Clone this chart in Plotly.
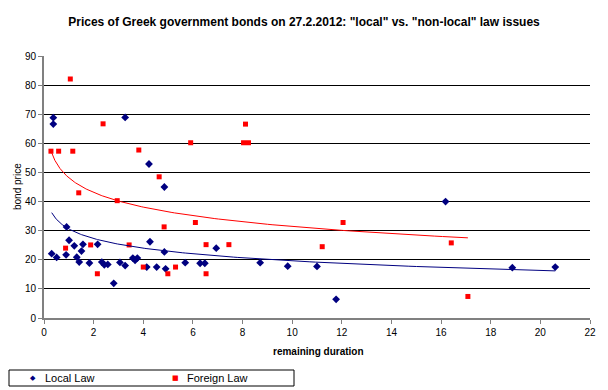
import numpy as np
import plotly.graph_objects as go

# Local law issues (remaining duration, price)
local_x = [0.375, 0.375, 3.27, 4.23, 4.85, 0.91, 0.31, 0.51, 1.01, 0.89, 1.22, 1.32, 1.42, 1.51,
           1.57, 1.83, 2.16, 2.33, 2.43, 2.57, 2.81, 3.06, 3.27, 3.58, 3.67, 3.76, 4.27, 4.14,
           4.54, 4.85, 4.90, 5.69, 6.29, 6.48, 6.94, 8.71, 9.82, 11.0, 11.77, 16.18, 18.87, 20.6]
local_y = [68.8, 66.6, 68.9, 52.9, 45.0, 31.3, 22.1, 20.8, 26.7, 21.7, 24.8, 20.9, 19.2, 23.0,
           25.3, 18.9, 25.3, 19.2, 18.3, 18.4, 11.9, 19.1, 18.0, 20.6, 19.8, 20.6, 26.2, 17.5,
           17.5, 22.7, 16.9, 19.0, 18.8, 18.8, 24.0, 19.0, 17.8, 17.7, 6.4, 40.0, 17.3, 17.5]

# Foreign law issues
foreign_x = [0.28, 0.59, 1.06, 1.16, 2.38, 3.82, 5.91, 4.64, 1.40, 8.12, 8.04, 8.24, 0.87, 1.88,
             2.15, 3.43, 2.95, 4.84, 6.10, 4.00, 4.99, 5.30, 6.53, 6.53, 7.45, 11.21, 12.05,
             16.41, 17.08]
foreign_y = [57.3, 57.3, 82.1, 57.3, 66.7, 57.7, 60.2, 48.5, 43.0, 66.6, 60.2, 60.2, 24.0, 25.1,
             15.2, 25.1, 40.3, 31.3, 32.8, 17.5, 15.2, 17.5, 25.2, 15.2, 25.2, 24.5, 32.8,
             25.8, 7.4]

x_ticks = list(range(0, 23, 2))
y_ticks = list(range(0, 91, 10))
series_names = ["Local Law", "Foreign Law"]


def log_trend(xs, ys):
    xs = np.asarray(xs, float)
    ys = np.asarray(ys, float)
    b, a = np.polyfit(np.log(xs), ys, 1)
    tx = np.geomspace(xs.min(), xs.max(), 200)
    return tx, a + b * np.log(tx)


lt_x, lt_y = log_trend(local_x, local_y)
ft_x, ft_y = log_trend(foreign_x, foreign_y)

FONT = "Liberation Sans, Arial, sans-serif"
NAVY = "#000080"
RED = "#FF0000"

fig = go.Figure()
fig.add_trace(go.Scatter(x=local_x, y=local_y, mode="markers", name=series_names[0],
                         marker=dict(symbol="diamond", size=6, color=NAVY)))
fig.add_trace(go.Scatter(x=foreign_x, y=foreign_y, mode="markers", name=series_names[1],
                         marker=dict(symbol="square", size=5, color=RED)))
fig.add_trace(go.Scatter(x=lt_x, y=lt_y, mode="lines",
                         line=dict(color=NAVY, width=1), hoverinfo="skip"))
fig.add_trace(go.Scatter(x=ft_x, y=ft_y, mode="lines",
                         line=dict(color=RED, width=1), hoverinfo="skip"))

# the page body adds an 8px offset; work in page pixels and convert
OFF = 8
PAGE_W, PAGE_H = 608, 390
W, H = PAGE_W - OFF, PAGE_H - OFF
PL, PT, PR, PB = 44, 56, 590, 318  # plot area in page pixels
L, T = PL - OFF, PT - OFF
R = W - (PR - OFF)
B = H - (PB - OFF)
pw = PR - PL
ph = PB - PT


def px_x(p):
    return (p - PL) / pw


def px_y(p):
    return (PB - p) / ph


annotations = [
    dict(text="bond price", x=px_x(17), y=px_y(187), xref="paper", yref="paper",
         textangle=-90, showarrow=False, xanchor="center", yanchor="middle",
         font=dict(size=10)),
    dict(text="<b>remaining duration</b>", x=px_x(318), y=px_y(351), xref="paper", yref="paper",
         showarrow=False, xanchor="center", yanchor="middle", font=dict(size=10)),
    # legend
    dict(text="\u25C6", x=px_x(33), y=px_y(378), xref="paper", yref="paper", showarrow=False,
         xanchor="center", yanchor="middle", font=dict(size=7, color=NAVY, family="DejaVu Sans")),
    dict(text=series_names[0], x=px_x(43), y=px_y(378), xref="paper", yref="paper",
         showarrow=False, xanchor="left", yanchor="middle", font=dict(size=11)),
    dict(text="\u25A0", x=px_x(175), y=px_y(378), xref="paper", yref="paper", showarrow=False,
         xanchor="center", yanchor="middle", font=dict(size=7, color=RED, family="DejaVu Sans")),
    dict(text=series_names[1], x=px_x(185), y=px_y(378), xref="paper", yref="paper",
         showarrow=False, xanchor="left", yanchor="middle", font=dict(size=11)),
]

shapes = [
    dict(type="rect", xref="paper", yref="paper", x0=px_x(9), x1=px_x(294),
         y0=px_y(386), y1=px_y(370), line=dict(color="black", width=1),
         fillcolor="white", layer="below"),
]

fig.update_layout(
    width=W, height=H,
    margin=dict(l=L, r=R, t=T, b=B, autoexpand=False),
    paper_bgcolor="white", plot_bgcolor="white",
    font=dict(family=FONT, size=10, color="black"),
    title=dict(text='<b>Prices of Greek government bonds on 27.2.2012: "local" vs. "non-local" law issues</b>',
               x=(304 - OFF) / W, xanchor="center", y=1 - (22 - OFF) / H, yanchor="middle",
               font=dict(family=FONT, size=12, color="black")),
    xaxis=dict(range=[0, 22], tickvals=x_ticks, ticks="outside", ticklen=4, tickcolor="#808080",
               showline=True, linecolor="#808080", linewidth=2, showgrid=False, zeroline=False,
               tickfont=dict(size=10), automargin=False),
    yaxis=dict(range=[0, 90], tickvals=y_ticks, ticks="outside", ticklen=4, tickcolor="#808080",
               showline=True, linecolor="#808080", linewidth=2, showgrid=True, gridcolor="black",
               gridwidth=1, zeroline=False, tickfont=dict(size=10), automargin=False),
    showlegend=False,
    annotations=annotations,
    shapes=shapes,
)

fig.write_html("out.html")
